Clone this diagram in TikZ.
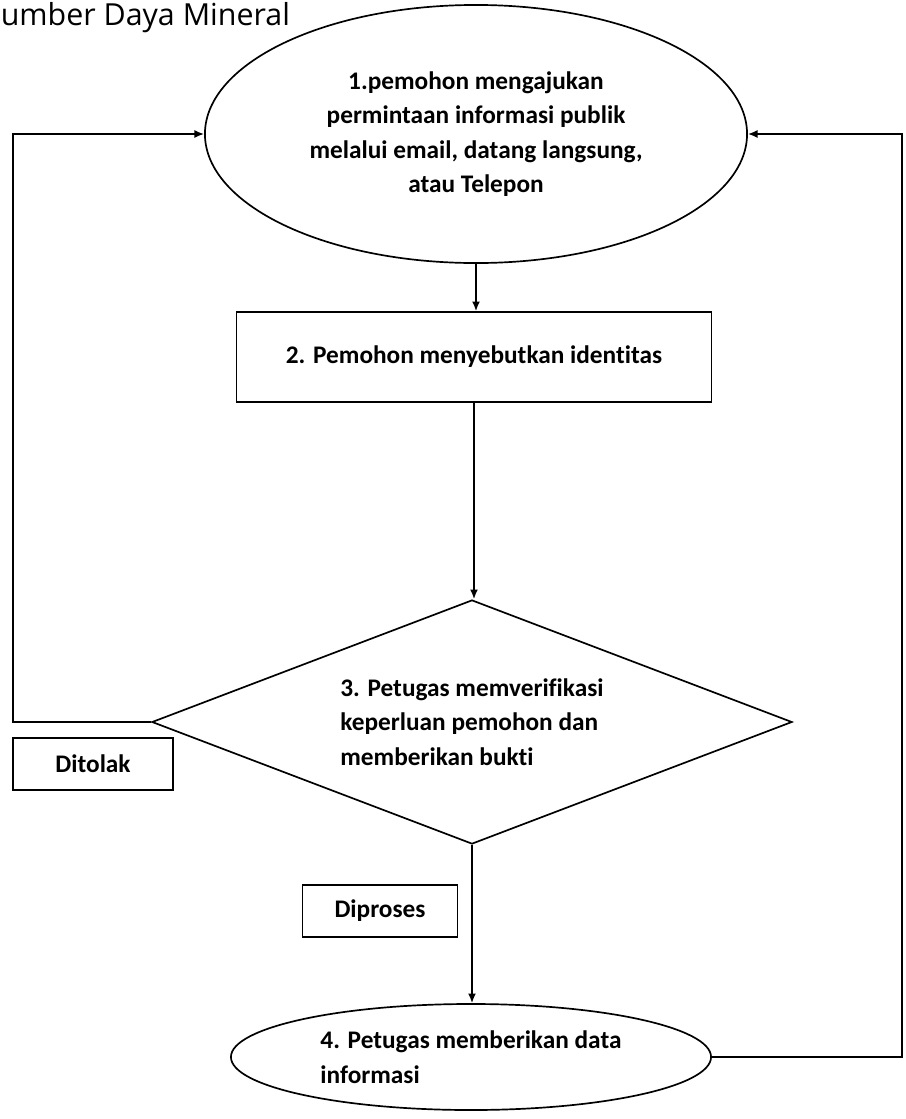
\documentclass[tikz,border=0pt]{standalone}
\usepackage{fontspec}
\setmainfont{Carlito}[Ligatures=NoCommon]
\newfontfamily\judulfont{Open Sans}
\usetikzlibrary{shapes.geometric, arrows.meta}

\begin{document}
\begin{tikzpicture}[x=0.025cm, y=-0.025cm, line width=1.2pt,
	teks/.style={font=\fontsize{18}{24.5}\selectfont\bfseries},
	mulai/.style={ellipse, draw, teks, align=center, inner sep=0pt},
	proses/.style={rectangle, draw, teks, minimum width=11.875cm, minimum height=2.25cm},
	putusan/.style={diamond, draw, teks, align=left, inner sep=0pt, aspect=2.6, minimum width=16cm, minimum height=6.1cm},
	label/.style={rectangle, draw, teks, minimum height=1.3cm},
	panah/.style={-{Latex[length=2.4mm, width=2mm]}}]
	\useasboundingbox (0, 0) rectangle (906, 1119);

	\node[anchor=base west, inner sep=0pt, font=\judulfont\fontsize{21.6}{25}\selectfont] (judul) at (0, 25) {umber Daya Mineral};

	\node[mulai, minimum width=13.55cm, minimum height=6.45cm] (1) at (476, 134) {1.pemohon mengajukan\\permintaan informasi publik\\melalui email, datang langsung,\\atau Telepon};
	\node[proses] (2) at (474, 357) {2. Pemohon menyebutkan identitas};
	\node[putusan] (3) at (472, 722) {3. Petugas memverifikasi\\keperluan pemohon dan\\memberikan bukti};
	\node[mulai, align=left, minimum width=12cm, minimum height=2.65cm] (4) at (471, 1057) {4. Petugas memberikan data\\informasi};

	\node[label, minimum width=4cm] (tolak) at (93, 764) {Ditolak};
	\node[label, minimum width=3.875cm] (proses) at (380, 911) {Diproses};

	\coordinate (kiri) at (13, 722);
	\coordinate (kanan) at (902, 1057);

	\draw[panah] (1.south) -- (1.south |- 2.north);
	\draw[panah] (2.south) -- (2.south |- 3.north);
	\draw[panah] (3.south) -- (3.south |- 4.north);
	\draw[panah] (3.west) -- (kiri) |- (1.west);
	\draw[panah] (4.east) -- (kanan) |- (1.east);
\end{tikzpicture}
\end{document}
